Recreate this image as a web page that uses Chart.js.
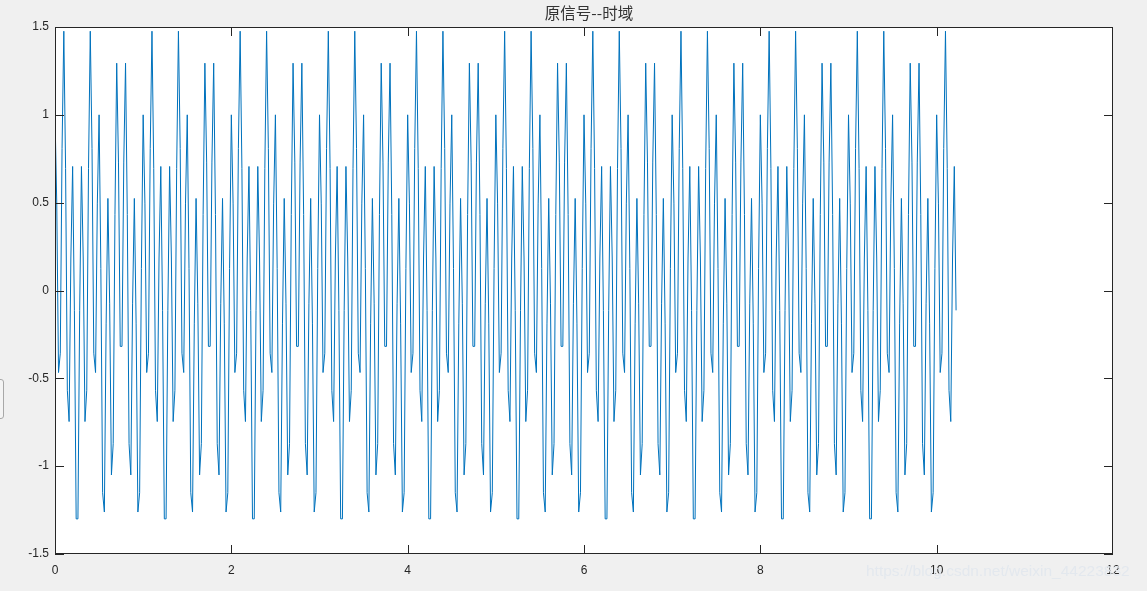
<!DOCTYPE html>
<html>
<head>
<meta charset="utf-8">
<script src="https://cdn.jsdelivr.net/npm/chart.js@4.4.1/dist/chart.umd.min.js"></script>
<style>
    html, body { margin: 0; padding: 0; background: #f0f0f0; overflow: hidden; }
    #wrap { position: relative; width: 1147px; height: 591px; }
    #plot { position: absolute; left: 0; top: 0; }
    .side-tab { position: absolute; left: -6px; top: 379px; width: 8px; height: 38px;
        border: 1px solid #a8a8a8; border-radius: 3px; background: #f4f4f4; }
    .mark { position: absolute; left: 866px; top: 562px; font: 15.5px "Liberation Sans", Arial, sans-serif;
        color: #e3e8ee; white-space: nowrap; }
</style>
</head>
<body>
<div id="wrap">
    <canvas id="plot" width="1147" height="591"></canvas>
    <div class="side-tab"></div>
    <div class="mark">https://blog.csdn.net/weixin_44223832</div>
</div>
<script>
// ---- DATA ----
const titleText = '原信号--时域';
const sampleRate = 50; // samples per second, 512 samples shown
const xTicks = [0, 2, 4, 6, 8, 10, 12];
const yTicks = [-1.5, -1, -0.5, 0, 0.5, 1, 1.5];
const xTickLabels = ['0', '2', '4', '6', '8', '10', '12'];
const yTickLabels = ['-1.5', '-1', '-0.5', '0', '0.5', '1', '1.5'];

// sample values, one second (50 samples) per two rows
const signal = [
    1, 0.493, -0.467, -0.357, 0.808, 1.476, 0.694, -0.568, -0.746, 0.185, 0.706, -0.113, -1.3, -1.3, -0.113, 0.706, 0.185, -0.746, -0.568, 0.694, 1.476, 0.808, -0.357, -0.467, 0.493,
    1, 0.125, -1.151, -1.261, -0.19, 0.524, -0.076, -1.05, -0.872, 0.433, 1.294, 0.731, -0.318, -0.318, 0.731, 1.294, 0.433, -0.872, -1.05, -0.076, 0.524, -0.19, -1.261, -1.151, 0.125,
    1, 0.493, -0.467, -0.357, 0.808, 1.476, 0.694, -0.568, -0.746, 0.185, 0.706, -0.113, -1.3, -1.3, -0.113, 0.706, 0.185, -0.746, -0.568, 0.694, 1.476, 0.808, -0.357, -0.467, 0.493,
    1, 0.125, -1.151, -1.261, -0.19, 0.524, -0.076, -1.05, -0.872, 0.433, 1.294, 0.731, -0.318, -0.318, 0.731, 1.294, 0.433, -0.872, -1.05, -0.076, 0.524, -0.19, -1.261, -1.151, 0.125,
    1, 0.493, -0.467, -0.357, 0.808, 1.476, 0.694, -0.568, -0.746, 0.185, 0.706, -0.113, -1.3, -1.3, -0.113, 0.706, 0.185, -0.746, -0.568, 0.694, 1.476, 0.808, -0.357, -0.467, 0.493,
    1, 0.125, -1.151, -1.261, -0.19, 0.524, -0.076, -1.05, -0.872, 0.433, 1.294, 0.731, -0.318, -0.318, 0.731, 1.294, 0.433, -0.872, -1.05, -0.076, 0.524, -0.19, -1.261, -1.151, 0.125,
    1, 0.493, -0.467, -0.357, 0.808, 1.476, 0.694, -0.568, -0.746, 0.185, 0.706, -0.113, -1.3, -1.3, -0.113, 0.706, 0.185, -0.746, -0.568, 0.694, 1.476, 0.808, -0.357, -0.467, 0.493,
    1, 0.125, -1.151, -1.261, -0.19, 0.524, -0.076, -1.05, -0.872, 0.433, 1.294, 0.731, -0.318, -0.318, 0.731, 1.294, 0.433, -0.872, -1.05, -0.076, 0.524, -0.19, -1.261, -1.151, 0.125,
    1, 0.493, -0.467, -0.357, 0.808, 1.476, 0.694, -0.568, -0.746, 0.185, 0.706, -0.113, -1.3, -1.3, -0.113, 0.706, 0.185, -0.746, -0.568, 0.694, 1.476, 0.808, -0.357, -0.467, 0.493,
    1, 0.125, -1.151, -1.261, -0.19, 0.524, -0.076, -1.05, -0.872, 0.433, 1.294, 0.731, -0.318, -0.318, 0.731, 1.294, 0.433, -0.872, -1.05, -0.076, 0.524, -0.19, -1.261, -1.151, 0.125,
    1, 0.493, -0.467, -0.357, 0.808, 1.476, 0.694, -0.568, -0.746, 0.185, 0.706, -0.113, -1.3, -1.3, -0.113, 0.706, 0.185, -0.746, -0.568, 0.694, 1.476, 0.808, -0.357, -0.467, 0.493,
    1, 0.125, -1.151, -1.261, -0.19, 0.524, -0.076, -1.05, -0.872, 0.433, 1.294, 0.731, -0.318, -0.318, 0.731, 1.294, 0.433, -0.872, -1.05, -0.076, 0.524, -0.19, -1.261, -1.151, 0.125,
    1, 0.493, -0.467, -0.357, 0.808, 1.476, 0.694, -0.568, -0.746, 0.185, 0.706, -0.113, -1.3, -1.3, -0.113, 0.706, 0.185, -0.746, -0.568, 0.694, 1.476, 0.808, -0.357, -0.467, 0.493,
    1, 0.125, -1.151, -1.261, -0.19, 0.524, -0.076, -1.05, -0.872, 0.433, 1.294, 0.731, -0.318, -0.318, 0.731, 1.294, 0.433, -0.872, -1.05, -0.076, 0.524, -0.19, -1.261, -1.151, 0.125,
    1, 0.493, -0.467, -0.357, 0.808, 1.476, 0.694, -0.568, -0.746, 0.185, 0.706, -0.113, -1.3, -1.3, -0.113, 0.706, 0.185, -0.746, -0.568, 0.694, 1.476, 0.808, -0.357, -0.467, 0.493,
    1, 0.125, -1.151, -1.261, -0.19, 0.524, -0.076, -1.05, -0.872, 0.433, 1.294, 0.731, -0.318, -0.318, 0.731, 1.294, 0.433, -0.872, -1.05, -0.076, 0.524, -0.19, -1.261, -1.151, 0.125,
    1, 0.493, -0.467, -0.357, 0.808, 1.476, 0.694, -0.568, -0.746, 0.185, 0.706, -0.113, -1.3, -1.3, -0.113, 0.706, 0.185, -0.746, -0.568, 0.694, 1.476, 0.808, -0.357, -0.467, 0.493,
    1, 0.125, -1.151, -1.261, -0.19, 0.524, -0.076, -1.05, -0.872, 0.433, 1.294, 0.731, -0.318, -0.318, 0.731, 1.294, 0.433, -0.872, -1.05, -0.076, 0.524, -0.19, -1.261, -1.151, 0.125,
    1, 0.493, -0.467, -0.357, 0.808, 1.476, 0.694, -0.568, -0.746, 0.185, 0.706, -0.113, -1.3, -1.3, -0.113, 0.706, 0.185, -0.746, -0.568, 0.694, 1.476, 0.808, -0.357, -0.467, 0.493,
    1, 0.125, -1.151, -1.261, -0.19, 0.524, -0.076, -1.05, -0.872, 0.433, 1.294, 0.731, -0.318, -0.318, 0.731, 1.294, 0.433, -0.872, -1.05, -0.076, 0.524, -0.19, -1.261, -1.151, 0.125,
    1, 0.493, -0.467, -0.357, 0.808, 1.476, 0.694, -0.568, -0.746, 0.185, 0.706, -0.113
];

const AXIS_COLOR = '#262626';
const TICK_LEN = 9;

// MATLAB style box with inward ticks on all four sides, title over the axes
const boxPlugin = {
    id: 'matlabBox',
    beforeDraw(chart) {
        const { ctx, chartArea: a } = chart;
        ctx.save();
        ctx.fillStyle = '#ffffff';
        ctx.fillRect(a.left, a.top, a.right - a.left, a.bottom - a.top);
        ctx.restore();
    },
    afterDraw(chart) {
        const { ctx, chartArea: a, scales } = chart;
        ctx.save();
        ctx.strokeStyle = AXIS_COLOR;
        ctx.lineWidth = 1;
        ctx.beginPath();
        xTicks.forEach(v => {
            const px = Math.min(Math.round(scales.x.getPixelForValue(v)), Math.round(a.right) - 1) + 0.5;
            ctx.moveTo(px, a.bottom); ctx.lineTo(px, a.bottom - TICK_LEN);
            ctx.moveTo(px, a.top); ctx.lineTo(px, a.top + TICK_LEN);
        });
        yTicks.forEach(v => {
            const py = Math.round(scales.y.getPixelForValue(v)) + 0.5;
            ctx.moveTo(a.left, py); ctx.lineTo(a.left + TICK_LEN, py);
            ctx.moveTo(a.right, py); ctx.lineTo(a.right - TICK_LEN, py);
        });
        ctx.stroke();
        ctx.strokeRect(Math.round(a.left) + 0.5, Math.round(a.top) + 0.5,
            Math.round(a.right - a.left) - 1, Math.round(a.bottom - a.top) - 1);

        ctx.fillStyle = '#333333';
        ctx.font = '15.5px "Noto Sans CJK SC", sans-serif';
        ctx.textAlign = 'center';
        ctx.textBaseline = 'middle';
        ctx.fillText(titleText, (a.left + a.right) / 2 + 5, 13);
        ctx.restore();
    }
};

const tickFont = { family: '"Liberation Sans", Arial, sans-serif', size: 12 };

new Chart(document.getElementById('plot'), {
    type: 'line',
    data: {
        datasets: [{
            data: signal.map((v, i) => ({ x: i / sampleRate, y: v })),
            borderColor: '#0072bd',
            borderWidth: 1,
            pointRadius: 0,
            tension: 0,
            fill: false
        }]
    },
    plugins: [boxPlugin],
    options: {
        responsive: false,
        animation: false,
        devicePixelRatio: 1,
        layout: { padding: { left: 0, right: 34, top: 27, bottom: 0 } },
        plugins: {
            legend: { display: false },
            tooltip: { enabled: false },
            title: { display: false }
        },
        scales: {
            x: {
                type: 'linear',
                min: 0, max: 12,
                grid: { display: false, drawTicks: false },
                border: { display: false },
                afterFit: s => { s.height = 37; },
                afterBuildTicks: s => { s.ticks = xTicks.map(v => ({ value: v })); },
                ticks: {
                    color: AXIS_COLOR, font: tickFont, padding: 9, maxRotation: 0,
                    callback: (v) => xTickLabels[xTicks.indexOf(v)]
                }
            },
            y: {
                type: 'linear',
                min: -1.5, max: 1.5,
                grid: { display: false, drawTicks: false },
                border: { display: false },
                afterFit: s => { s.width = 55; },
                afterBuildTicks: s => { s.ticks = yTicks.map(v => ({ value: v })); },
                ticks: {
                    color: AXIS_COLOR, font: tickFont, padding: 6,
                    callback: (v) => yTickLabels[yTicks.indexOf(v)]
                }
            }
        }
    }
});
</script>
</body>
</html>
